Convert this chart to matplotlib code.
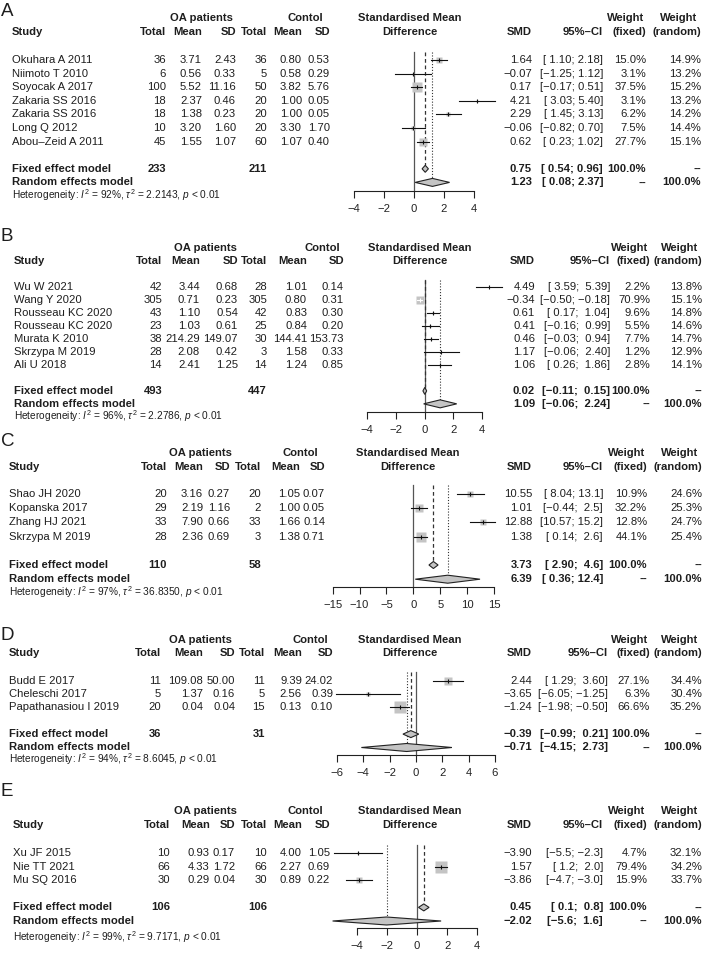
import matplotlib
matplotlib.use("Agg")
import matplotlib.pyplot as plt
from matplotlib.patches import Polygon

plt.rcParams['font.family'] = ['Liberation Sans', 'DejaVu Sans']
plt.rcParams['mathtext.fontset'] = 'custom'
plt.rcParams['mathtext.rm'] = 'Liberation Sans'
plt.rcParams['mathtext.it'] = 'Liberation Sans:italic'

# ---- data ----
A_STUDY = ["Okuhara A 2011", "Niimoto T 2010", "Soyocak A 2017", "Zakaria SS 2016",
           "Zakaria SS 2016", "Long Q 2012", "Abou\u2013Zeid A 2011"]
A_OA_N = [36, 6, 100, 18, 18, 10, 45]
A_OA_MEAN = [3.71, 0.56, 5.52, 2.37, 1.38, 3.20, 1.55]
A_OA_SD = [2.43, 0.33, 11.16, 0.46, 0.23, 1.60, 1.07]
A_CT_N = [36, 5, 50, 20, 20, 20, 60]
A_CT_MEAN = [0.80, 0.58, 3.82, 1.00, 1.00, 3.30, 1.07]
A_CT_SD = [0.53, 0.29, 5.76, 0.05, 0.05, 1.70, 0.40]
A_SMD = ["1.64", "-0.07", "0.17", "4.21", "2.29", "-0.06", "0.62"]
A_LO = ["1.10", "-1.25", "-0.17", "3.03", "1.45", "-0.82", "0.23"]
A_HI = ["2.18", "1.12", "0.51", "5.40", "3.13", "0.70", "1.02"]
A_WF = [15.0, 3.1, 37.5, 3.1, 6.2, 7.5, 27.7]
A_WR = [14.9, 13.2, 15.2, 13.2, 14.2, 14.4, 15.1]
A_FIXED = ["0.75", "0.54", "0.96"]
A_RANDOM = ["1.23", "0.08", "2.37"]
A_TOTALS = [233, 211]
A_HET = [92, "2.2143"]
A_TICKS = [-4, -2, 0, 2, 4]

B_STUDY = ["Wu W 2021", "Wang Y 2020", "Rousseau KC 2020", "Rousseau KC 2020",
           "Murata K 2010", "Skrzypa M 2019", "Ali U 2018"]
B_OA_N = [42, 305, 43, 23, 38, 28, 14]
B_OA_MEAN = [3.44, 0.71, 1.10, 1.03, 214.29, 2.08, 2.41]
B_OA_SD = [0.68, 0.23, 0.54, 0.61, 149.07, 0.42, 1.25]
B_CT_N = [28, 305, 42, 25, 30, 3, 14]
B_CT_MEAN = [1.01, 0.80, 0.83, 0.84, 144.41, 1.58, 1.24]
B_CT_SD = [0.14, 0.31, 0.30, 0.20, 153.73, 0.33, 0.85]
B_SMD = ["4.49", "-0.34", "0.61", "0.41", "0.46", "1.17", "1.06"]
B_LO = ["3.59", "-0.50", "0.17", "-0.16", "-0.03", "-0.06", "0.26"]
B_HI = ["5.39", "-0.18", "1.04", "0.99", "0.94", "2.40", "1.86"]
B_WF = [2.2, 70.9, 9.6, 5.5, 7.7, 1.2, 2.8]
B_WR = [13.8, 15.1, 14.8, 14.6, 14.7, 12.9, 14.1]
B_FIXED = ["0.02", "-0.11", "0.15"]
B_RANDOM = ["1.09", "-0.06", "2.24"]
B_TOTALS = [493, 447]
B_HET = [96, "2.2786"]
B_TICKS = [-4, -2, 0, 2, 4]

C_STUDY = ["Shao JH 2020", "Kopanska 2017", "Zhang HJ 2021", "Skrzypa M 2019"]
C_OA_N = [20, 29, 33, 28]
C_OA_MEAN = [3.16, 2.19, 7.90, 2.36]
C_OA_SD = [0.27, 1.16, 0.66, 0.69]
C_CT_N = [20, 2, 33, 3]
C_CT_MEAN = [1.05, 1.00, 1.66, 1.38]
C_CT_SD = [0.07, 0.05, 0.14, 0.71]
C_SMD = ["10.55", "1.01", "12.88", "1.38"]
C_LO = ["8.04", "-0.44", "10.57", "0.14"]
C_HI = ["13.1", "2.5", "15.2", "2.6"]
C_WF = [10.9, 32.2, 12.8, 44.1]
C_WR = [24.6, 25.3, 24.7, 25.4]
C_FIXED = ["3.73", "2.90", "4.6"]
C_RANDOM = ["6.39", "0.36", "12.4"]
C_TOTALS = [110, 58]
C_HET = [97, "36.8350"]
C_TICKS = [-15, -10, -5, 0, 5, 10, 15]

D_STUDY = ["Budd E 2017", "Cheleschi 2017", "Papathanasiou I 2019"]
D_OA_N = [11, 5, 20]
D_OA_MEAN = [109.08, 1.37, 0.04]
D_OA_SD = [50.00, 0.16, 0.04]
D_CT_N = [11, 5, 15]
D_CT_MEAN = [9.39, 2.56, 0.13]
D_CT_SD = [24.02, 0.39, 0.10]
D_SMD = ["2.44", "-3.65", "-1.24"]
D_LO = ["1.29", "-6.05", "-1.98"]
D_HI = ["3.60", "-1.25", "-0.50"]
D_WF = [27.1, 6.3, 66.6]
D_WR = [34.4, 30.4, 35.2]
D_FIXED = ["-0.39", "-0.99", "0.21"]
D_RANDOM = ["-0.71", "-4.15", "2.73"]
D_TOTALS = [36, 31]
D_HET = [94, "8.6045"]
D_TICKS = [-6, -4, -2, 0, 2, 4, 6]

E_STUDY = ["Xu JF 2015", "Nie TT 2021", "Mu SQ 2016"]
E_OA_N = [10, 66, 30]
E_OA_MEAN = [0.93, 4.33, 0.29]
E_OA_SD = [0.17, 1.72, 0.04]
E_CT_N = [10, 66, 30]
E_CT_MEAN = [4.00, 2.27, 0.89]
E_CT_SD = [1.05, 0.69, 0.22]
E_SMD = ["-3.90", "1.57", "-3.86"]
E_LO = ["-5.5", "1.2", "-4.7"]
E_HI = ["-2.3", "2.0", "-3.0"]
E_WF = [4.7, 79.4, 15.9]
E_WR = [32.1, 34.2, 33.7]
E_FIXED = ["0.45", "0.1", "0.8"]
E_RANDOM = ["-2.02", "-5.6", "1.6"]
E_TOTALS = [106, 106]
E_HET = [99, "9.7171"]
E_TICKS = [-4, -2, 0, 2, 4]

panels = [
    ("A", A_STUDY, A_OA_N, A_OA_MEAN, A_OA_SD, A_CT_N, A_CT_MEAN, A_CT_SD, A_SMD, A_LO, A_HI,
     A_WF, A_WR, A_FIXED, A_RANDOM, A_TOTALS, A_HET, A_TICKS),
    ("B", B_STUDY, B_OA_N, B_OA_MEAN, B_OA_SD, B_CT_N, B_CT_MEAN, B_CT_SD, B_SMD, B_LO, B_HI,
     B_WF, B_WR, B_FIXED, B_RANDOM, B_TOTALS, B_HET, B_TICKS),
    ("C", C_STUDY, C_OA_N, C_OA_MEAN, C_OA_SD, C_CT_N, C_CT_MEAN, C_CT_SD, C_SMD, C_LO, C_HI,
     C_WF, C_WR, C_FIXED, C_RANDOM, C_TOTALS, C_HET, C_TICKS),
    ("D", D_STUDY, D_OA_N, D_OA_MEAN, D_OA_SD, D_CT_N, D_CT_MEAN, D_CT_SD, D_SMD, D_LO, D_HI,
     D_WF, D_WR, D_FIXED, D_RANDOM, D_TOTALS, D_HET, D_TICKS),
    ("E", E_STUDY, E_OA_N, E_OA_MEAN, E_OA_SD, E_CT_N, E_CT_MEAN, E_CT_SD, E_SMD, E_LO, E_HI,
     E_WF, E_WR, E_FIXED, E_RANDOM, E_TOTALS, E_HET, E_TICKS),
]

# ---- layout (pixel positions of each panel) ----
W, H = 710, 956
layouts = [
    dict(letter=11.5, hdr1=17.5, hdr2=32.3, first=60.0, step=13.6, het=195.5, axis=190.7, x0=354, x1=474, bmax=10,
         study=12, n1=166, m1=202, sd1=236, n2=267, m2=302, sd2=330, oa=201, ct=305, std=410,
         smd=532, ci=603, wf=646, wr=701),
    dict(letter=236.7, hdr1=248.3, hdr2=261, first=287.3, step=12.95, het=416, axis=412, x0=367, x1=482, bmax=8,
         study=14, n1=162, m1=200, sd1=238, n2=267, m2=307, sd2=344, oa=205, ct=322, std=420,
         smd=535, ci=610, wf=650, wr=702),
    dict(letter=442, hdr1=453, hdr2=467, first=494, step=14.2, het=592, axis=586.5, x0=332.7, x1=494, bmax=10.5,
         study=9, n1=167, m1=203, sd1=230, n2=261, m2=300, sd2=325, oa=200, ct=300, std=408,
         smd=532, ci=603, wf=647, wr=702),
    dict(letter=635, hdr1=640.3, hdr2=653, first=680.5, step=13.4, het=759.5, axis=755, x0=337, x1=495, bmax=11.5,
         study=9, n1=161, m1=203, sd1=235, n2=265, m2=302, sd2=333, oa=200, ct=310, std=410,
         smd=532, ci=608, wf=650, wr=702),
    dict(letter=792, hdr1=810.7, hdr2=825, first=853, step=13.6, het=936.7, axis=928.3, x0=356.7, x1=477.3, bmax=11.7,
         study=13, n1=170, m1=210, sd1=235, n2=267, m2=302, sd2=330, oa=205, ct=305, std=410,
         smd=532, ci=603, wf=647, wr=702),
]

FS = 8.1
TXT = "#1e1e1e"
GREY = "#c4c4c4"


def mn(s):
    return s.replace("-", "\u2212")


def ci_labels(lo, hi):
    wl = max(len(s) for s in lo)
    wh = max(len(s) for s in hi)
    return [mn("[" + a.rjust(wl) + "; " + b.rjust(wh) + "]") for a, b in zip(lo, hi)]


fig = plt.figure(figsize=(W / 100, H / 100), dpi=100)
tab = fig.add_axes([0, 0, 1, 1])
tab.set_xlim(0, W)
tab.set_ylim(H, 0)
tab.axis("off")

for p, L in zip(panels, layouts):
    (letter, study, oa_n, oa_m, oa_sd, ct_n, ct_m, ct_sd, smd, lo, hi,
     wf, wr, fixed, rand, totals, het, ticks) = p
    n = len(study)
    rows = [L["first"] + i * L["step"] for i in range(n)]
    y_fix = L["first"] + (n + 1) * L["step"]
    y_ran = y_fix + L["step"]

    def t(x, y, s, ha="right", bold=False, size=FS):
        tab.text(x, y, s, ha=ha, va="center", fontsize=size, color=TXT,
                 fontweight="bold" if bold else "normal")

    # headers
    tab.text(1, L["letter"], letter, ha="left", va="center", fontsize=13.5, color=TXT)
    t(L["oa"], L["hdr1"], "OA patients", ha="center", bold=True)
    t(L["ct"], L["hdr1"], "Contol", ha="center", bold=True)
    t(L["std"], L["hdr1"], "Standardised Mean", ha="center", bold=True)
    t(L["wf"] - 2, L["hdr1"], "Weight", bold=True)
    t(L["wr"] - 4, L["hdr1"], "Weight", bold=True)
    t(L["study"], L["hdr2"], "Study", ha="left", bold=True)
    for key, lab in [("n1", "Total"), ("m1", "Mean"), ("sd1", "SD"), ("n2", "Total"),
                     ("m2", "Mean"), ("sd2", "SD"), ("smd", "SMD"), ("ci", "95%\u2013CI"),
                     ("wf", "(fixed)"), ("wr", "(random)")]:
        t(L[key], L["hdr2"], lab, bold=True)
    t(L["std"], L["hdr2"], "Difference", ha="center", bold=True)

    # study rows
    cis = ci_labels(lo + [fixed[1], rand[1]], hi + [fixed[2], rand[2]])
    for i, y in enumerate(rows):
        t(L["study"], y, study[i], ha="left")
        t(L["n1"], y, str(oa_n[i]))
        t(L["m1"], y, "%.2f" % oa_m[i])
        t(L["sd1"], y, "%.2f" % oa_sd[i])
        t(L["n2"], y, str(ct_n[i]))
        t(L["m2"], y, "%.2f" % ct_m[i])
        t(L["sd2"], y, "%.2f" % ct_sd[i])
        t(L["smd"], y, mn(smd[i]))
        t(L["ci"], y, cis[i])
        t(L["wf"], y, "%.1f%%" % wf[i])
        t(L["wr"], y, "%.1f%%" % wr[i])

    # summary rows
    t(L["study"], y_fix, "Fixed effect model", ha="left", bold=True)
    t(L["n1"], y_fix, str(totals[0]), bold=True)
    t(L["n2"], y_fix, str(totals[1]), bold=True)
    t(L["smd"], y_fix, mn(fixed[0]), bold=True)
    t(L["ci"], y_fix, cis[n], bold=True)
    t(L["wf"], y_fix, "100.0%", bold=True)
    t(L["wr"], y_fix, "--", bold=True)
    t(L["study"], y_ran, "Random effects model", ha="left", bold=True)
    t(L["smd"], y_ran, mn(rand[0]), bold=True)
    t(L["ci"], y_ran, cis[n + 1], bold=True)
    t(L["wf"], y_ran, "--", bold=True)
    t(L["wr"], y_ran, "100.0%", bold=True)
    tab.text(L["study"], L["het"],
             r"Heterogeneity: $I^2$ = %d%%, $\tau^2$ = %s, $p$ < 0.01" % (het[0], het[1]),
             ha="left", va="center", fontsize=7.3, color=TXT)

    # forest plot axes (x in SMD units, y in pixel rows)
    ax = fig.add_axes([L["x0"] / W, 1 - L["axis"] / H, (L["x1"] - L["x0"]) / W,
                       (L["axis"] - L["hdr2"]) / H])
    ax.patch.set_alpha(0)
    ax.set_xlim(ticks[0], ticks[-1])
    ax.set_ylim(L["axis"], L["hdr2"])
    for s in ["left", "right", "top"]:
        ax.spines[s].set_visible(False)
    ax.spines["bottom"].set_linewidth(0.8)
    ax.spines["bottom"].set_color("#222222")
    ax.set_yticks([])
    ax.set_xticks(ticks)
    ax.set_xticklabels([mn(str(v)) for v in ticks])
    ax.tick_params(axis="x", direction="out", length=5, width=0.8, pad=4.5,
                   labelsize=FS, colors="#222222")

    px_per_unit = (L["x1"] - L["x0"]) / (ticks[-1] - ticks[0])
    top = rows[0] - 0.6 * L["step"]
    ax.plot([0, 0], [top, L["axis"]], color="#555555", lw=0.9, clip_on=False)
    fx = float(fixed[0])
    rx = float(rand[0])
    ax.plot([fx, fx], [top, y_fix - 4], color="#333333", lw=0.9, ls=(0, (3, 2.2)), clip_on=False)
    ax.plot([rx, rx], [top, y_ran - 4], color="#333333", lw=0.8, ls=(0, (1, 1.6)), clip_on=False)

    wmax = max(wf)
    for i, y in enumerate(rows):
        est, a, b = float(smd[i]), float(lo[i]), float(hi[i])
        side = L["bmax"] * (wf[i] / wmax) ** 0.5
        ax.plot([est], [y], marker="s", ms=side * 0.72, color=GREY, mec="none",
                clip_on=False, zorder=3)
        inside = (b - a) * px_per_unit < side
        col = "white" if inside else "#111111"
        ax.plot([a, b], [y, y], color=col, lw=0.8, clip_on=False, zorder=4)
        ax.plot([est], [y], marker="|", ms=2.6, mew=0.8, color=col, clip_on=False, zorder=5)

    for (e, a, b), y, hgt in [(fixed, y_fix, 7), (rand, y_ran, 8)]:
        e, a, b = float(e), float(a), float(b)
        ax.add_patch(Polygon([(a, y), (e, y - hgt / 2), (b, y), (e, y + hgt / 2)],
                             closed=True, fc=GREY, ec="#222222", lw=0.8, clip_on=False, zorder=4))

fig.savefig("out.png", dpi=100)
